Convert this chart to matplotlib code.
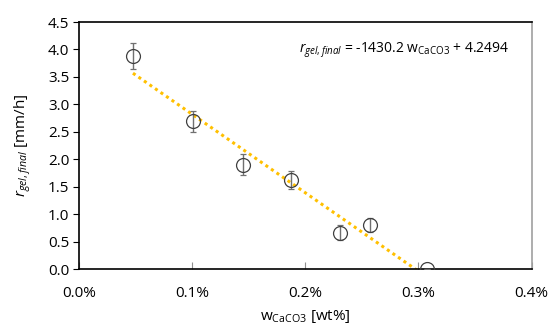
import matplotlib
matplotlib.use("Agg")
import matplotlib.pyplot as plt
from matplotlib.ticker import FuncFormatter, MultipleLocator

# data (x as mass fraction, shown as %)
w_caco3 = [0.000477, 0.001006, 0.001447, 0.001877, 0.002303, 0.002574, 0.003074]
r_gel = [3.88, 2.69, 1.90, 1.62, 0.66, 0.80, 0.0]
r_err = [0.235, 0.19, 0.19, 0.16, 0.14, 0.13, 0.0]

slope, intercept = -1430.2, 4.2494
x_ticks = [0.0, 0.001, 0.002, 0.003, 0.004]

plt.rcParams['font.family'] = ['Open Sans', 'DejaVu Sans']
plt.rcParams['mathtext.fontset'] = 'custom'
plt.rcParams['mathtext.rm'] = 'Open Sans'
plt.rcParams['mathtext.it'] = 'Open Sans:italic'

fig = plt.figure(figsize=(5.5, 3.26), dpi=100)
ax = fig.add_axes([0.1436, 0.1748, 0.823, 0.7577])

# trendline, clipped at y = 0 like the spreadsheet one
x_fit = [min(w_caco3), max(w_caco3)]
y_fit = [slope * x + intercept for x in x_fit]
ax.plot(x_fit, y_fit, linestyle=(0, (1, 1.2)), color='#FFC000', linewidth=2.2, zorder=2)

ax.errorbar(w_caco3, r_gel, yerr=r_err, fmt='o', markersize=10,
            markerfacecolor='none', markeredgecolor='#404040', markeredgewidth=0.9,
            ecolor='#707070', elinewidth=1.0, capsize=2.5, capthick=0.9, zorder=3)

ax.set_xlim(0, 0.004)
ax.set_ylim(0, 4.5)
ax.set_xticks(x_ticks)
ax.xaxis.set_major_formatter(FuncFormatter(lambda v, p: f"{v * 100:.1f}%"))
ax.yaxis.set_major_locator(MultipleLocator(0.5))
ax.yaxis.set_major_formatter(FuncFormatter(lambda v, p: f"{v:.1f}"))

ax.tick_params(axis='x', direction='in', length=5, color='#909090', labelsize=11, pad=12)
ax.tick_params(axis='y', direction='out', length=4, color='black', labelsize=11, pad=3)
for s in ['left', 'bottom', 'top']:
    ax.spines[s].set_color('black')
    ax.spines[s].set_linewidth(1.2)
ax.spines['right'].set_color('#a0a0a0')
ax.spines['right'].set_linewidth(1.2)

ax.set_xlabel(r'w$_{\mathrm{CaCO3}}$ [wt%]', fontsize=11, labelpad=5)
ax.set_ylabel(r'$r_{gel,final}$ [mm/h]', fontsize=11, labelpad=11)

ax.text(0.0038, 3.99, r'$r_{gel,final}$ = -1430.2 w$_{\mathrm{CaCO3}}$ + 4.2494',
        fontsize=10, ha='right', va='center')

fig.savefig('out.png', dpi=100)
